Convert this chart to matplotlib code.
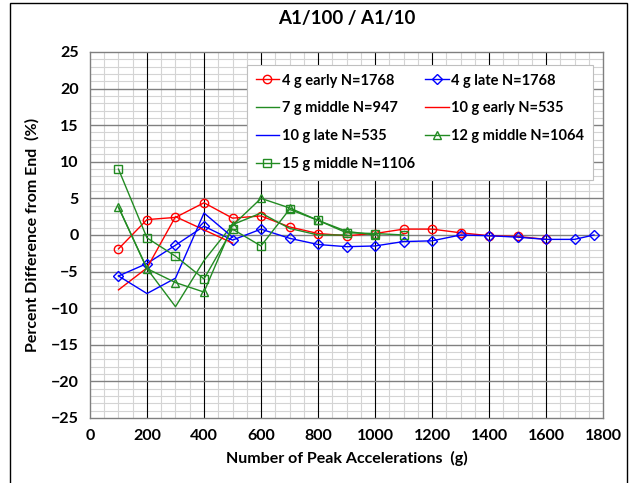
import matplotlib
matplotlib.use("Agg")
import matplotlib.pyplot as plt
from matplotlib.patches import Rectangle
from matplotlib.ticker import MultipleLocator

plt.rcParams["font.family"] = ["Lato", "DejaVu Sans"]
plt.rcParams["font.weight"] = "bold"

# peak counts (g) and percent differences for each run
x_4g = [100, 200, 300, 400, 500, 600, 700, 800, 900, 1000, 1100, 1200,
        1300, 1400, 1500, 1600, 1700, 1768]
early_4g = [-1.9, 2.1, 2.4, 4.4, 2.3, 2.6, 1.1, 0.2, -0.1, 0.2, 0.8, 0.8,
            0.3, -0.1, -0.2, -0.6]
late_4g = [-5.6, -3.9, -1.4, 1.2, -0.7, 0.8, -0.45, -1.3, -1.6, -1.5, -0.9,
           -0.8, 0.0, -0.1, -0.3, -0.6, -0.6, 0.0]

x_7g = [100, 200, 300, 400, 500, 600, 700, 800, 900]
middle_7g = [3.8, -4.6, -9.8, -3.5, 1.4, 3.0, 0.9, 0.0, 0.0]

x_10g = [100, 200, 300, 400, 500]
early_10g = [-7.5, -4.5, 2.5, 0.7, -1.1]
late_10g = [-5.6, -8.0, -5.9, 3.0, -0.3]

x_12g = [100, 200, 300, 400, 500, 600, 700, 800, 900, 1000]
middle_12g = [3.8, -4.6, -6.5, -7.8, 1.3, 5.0, 3.7, 2.0, 0.5, 0.0]

x_15g = [100, 200, 300, 400, 500, 600, 700, 800, 900, 1000, 1100]
middle_15g = [9.0, -0.4, -2.9, -6.0, 0.8, -1.5, 3.5, 2.0, 0.3, 0.2, 0.0]

red = "#ff0000"
blue = "#0000ff"
green = "#228b22"

fig = plt.figure(figsize=(6.35, 4.83), dpi=100)
ax = fig.add_axes([0.1417, 0.1346, 0.808, 0.7578])

h1, = ax.plot(x_4g[:len(early_4g)], early_4g, color=red, lw=1, marker="o",
              ms=6, mfc="none", mec=red, label="4 g early N=1768")
h2, = ax.plot(x_4g, late_4g, color=blue, lw=1, marker="D", ms=5,
              mfc="none", mec=blue, label="4 g late N=1768")
h3, = ax.plot(x_7g, middle_7g, color=green, lw=1, label="7 g middle N=947")
h4, = ax.plot(x_10g, early_10g, color=red, lw=1, label="10 g early N=535")
h5, = ax.plot(x_10g, late_10g, color=blue, lw=1, label="10 g late N=535")
h6, = ax.plot(x_12g, middle_12g, color=green, lw=1, marker="^", ms=6,
              mfc="none", mec=green, label="12 g middle N=1064")
h7, = ax.plot(x_15g, middle_15g, color=green, lw=1, marker="s", ms=6,
              mfc="none", mec=green, label="15 g middle N=1106")

ax.set_xlim(0, 1800)
ax.set_ylim(-25, 25)
ax.xaxis.set_major_locator(MultipleLocator(200))
ax.xaxis.set_minor_locator(MultipleLocator(50))
ax.yaxis.set_major_locator(MultipleLocator(5))
ax.yaxis.set_minor_locator(MultipleLocator(1))

# light minor grid underneath, heavier major lines on top of it
ax.grid(which="minor", color="#d4d4d4", lw=0.8, zorder=0.3)
for xv in range(200, 1800, 200):
    ax.axvline(xv, color="#000000", lw=0.8, zorder=0.6)
for yv in range(-20, 25, 5):
    ax.axhline(yv, color="#808080", lw=1.0, zorder=0.6)
ax.set_axisbelow(True)
ax.tick_params(which="both", length=0, labelsize=11.5, pad=8)
for s in ax.spines.values():
    s.set_color("#7f7f7f")
    s.set_linewidth(1.0)

ax.set_title("A1/100 / A1/10", fontsize=13.5, fontweight="bold", pad=20)
ax.set_xlabel("Number of Peak Accelerations  (g)", fontsize=11.5,
              fontweight="bold", labelpad=6)
ax.set_ylabel("Percent Difference from End  (%)", fontsize=11.5,
              fontweight="bold", labelpad=8)

leg = ax.legend(handles=[h1, h3, h5, h7, h2, h4, h6], ncol=2,
                loc="upper right", bbox_to_anchor=(0.995, 0.985),
                prop={"weight": "bold", "size": 10.5},
                handlelength=1.6, handletextpad=0.2, columnspacing=0.7,
                labelspacing=0.95, borderpad=0.6, fancybox=False,
                framealpha=1, edgecolor="#bfbfbf")
leg.get_frame().set_linewidth(0.8)

# outer chart border
fig.patches.append(Rectangle((10 / 635, -0.02), 617 / 635, 1.0 - 3 / 483 + 0.02,
                             transform=fig.transFigure, fill=False,
                             edgecolor="black", lw=1.0))

fig.savefig("out.png", dpi=100)
